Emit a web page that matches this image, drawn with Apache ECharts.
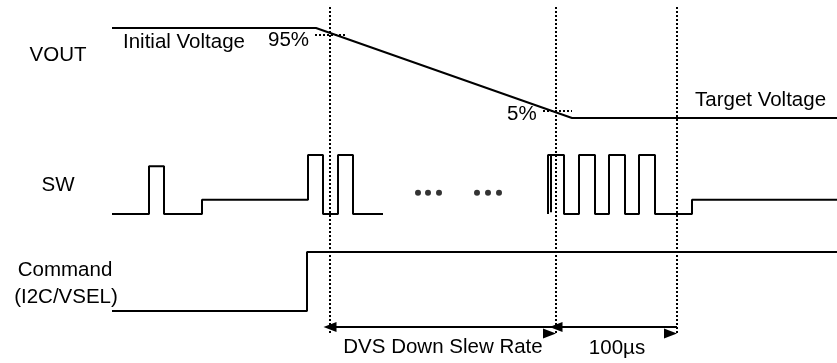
<!DOCTYPE html>
<html>
<head>
<meta charset="utf-8">
<script src="https://cdn.jsdelivr.net/npm/echarts@6/dist/echarts.min.js"></script>
<style>
  html, body { margin: 0; padding: 0; background: #fff; }
  #chart { width: 837px; height: 363px; }
</style>
</head>
<body>
<div id="chart"></div>
<script>
// time runs on one shared axis (diagram units), levels are per lane
const timeMax = 837;

// VOUT, in % of the step (100 = initial, 0 = target)
const voutData = [[112, 100], [316, 100], [572, 0], [837, 0]];
const voutMarks = [[315, 347, 92], [543, 572, 8]];   // [from, to, level] for 95% / 5% ticks

// SW node, level held from each time until the next one
const swBefore = [[112, 0], [149, 0.81], [164, 0], [202, 0.24], [308, 1], [323, 0], [338, 1], [353, 0], [383, 0]];
const swAfter = [[548, 0], [548, 1], [564, 0], [579, 1], [595, 0], [609, 1], [625, 0], [639, 1], [655, 0], [692, 0.24], [837, 0.24]];
const swGlitch = [[551, 0.03], [551, 1]];
const swDots = [[418, 0.36], [428, 0.36], [439, 0.36], [477, 0.36], [488, 0.36], [499, 0.36]];

// Command (I2C/VSEL)
const cmdData = [[112, 0], [307, 1], [837, 1]];

// event times (dotted guides) and the spans between them
const eventTimes = [330, 556, 677];
const spanNames = ['DVS Down Slew Rate', '100µs'];

const laneNames = ['VOUT', 'SW', 'Command', '(I2C/VSEL)'];

const FONT = '20.5px "Liberation Sans", Arial, sans-serif';
const INK = '#000';

let chart = echarts.init(document.getElementById('chart'));

const lanes = [
    {top: 28, height: 90, max: 100},   // VOUT
    {top: 155, height: 59, max: 1},    // SW
    {top: 252, height: 59, max: 1},    // Command
    {top: 5, height: 328, max: 1},     // guides
    {top: 321, height: 12, max: 1}     // span arrows
];

const lineBase = (gridIndex, data, step)=>{
    return {
        type: 'line',
        xAxisIndex: gridIndex,
        yAxisIndex: gridIndex,
        data,
        step: step || false,
        showSymbol: false,
        symbol: 'none',
        clip: false,
        silent: true,
        lineStyle: {color: INK, width: 2},
        z: 3
    };
};

const text = (str, x, y, align)=>{
    return {
        type: 'text',
        x, y,
        silent: true,
        style: {text: str, font: FONT, fill: INK, align: align || 'left', verticalAlign: 'middle'}
    };
};

let vout = lineBase(0, voutData);
vout.markLine = {
    silent: true,
    symbol: 'none',
    label: {show: false},
    lineStyle: {color: INK, width: 1.8, type: [2, 2]},
    data: voutMarks.map((m)=>{
        return [{coord: [m[0], m[2]]}, {coord: [m[1], m[2]]}];
    })
};

let guides = lineBase(3, []);
guides.markLine = {
    silent: true,
    symbol: 'none',
    label: {show: false},
    lineStyle: {color: INK, width: 2, type: [2, 2]},
    data: eventTimes.map((t)=>{
        return {xAxis: t};
    })
};

let spans = lineBase(4, []);
spans.markLine = {
    silent: true,
    symbol: ['triangle', 'triangle'],
    symbolSize: [10, 13],
    symbolOffset: [0, 6.5],
    label: {show: false},
    lineStyle: {color: INK, width: 2, type: 'solid'},
    data: [
        [{coord: [eventTimes[0], 0.5]}, {coord: [eventTimes[1], 0.5]}],
        [{coord: [eventTimes[1], 0.5]}, {coord: [eventTimes[2], 0.5]}]
    ]
};

chart.setOption({
    backgroundColor: '#fff',
    animation: false,
    grid: lanes.map((l)=>{
        return {left: 0, right: 0, top: l.top, height: l.height};
    }),
    xAxis: lanes.map((l, i)=>{
        return {type: 'value', gridIndex: i, min: 0, max: timeMax, show: false};
    }),
    yAxis: lanes.map((l, i)=>{
        return {type: 'value', gridIndex: i, min: 0, max: l.max, show: false};
    }),
    series: [
        vout,
        lineBase(1, swBefore, 'end'),
        lineBase(1, swAfter, 'end'),
        lineBase(1, swGlitch),
        {
            type: 'scatter',
            xAxisIndex: 1,
            yAxisIndex: 1,
            data: swDots,
            symbol: 'circle',
            symbolSize: 6,
            silent: true,
            itemStyle: {color: INK}
        },
        lineBase(2, cmdData, 'end'),
        guides,
        spans
    ],
    graphic: [
        text(laneNames[0], 58, 55, 'center'),
        text(laneNames[1], 58, 185, 'center'),
        text(laneNames[2], 65, 270, 'center'),
        text(laneNames[3], 66, 297, 'center'),
        text('Initial Voltage', 123, 42),
        text('95%', 268, 40),
        text('5%', 507, 114),
        text('Target Voltage', 695, 100),
        text(spanNames[0], 443, 347, 'center'),
        text(spanNames[1], 617, 348, 'center')
    ]
});
</script>
</body>
</html>
